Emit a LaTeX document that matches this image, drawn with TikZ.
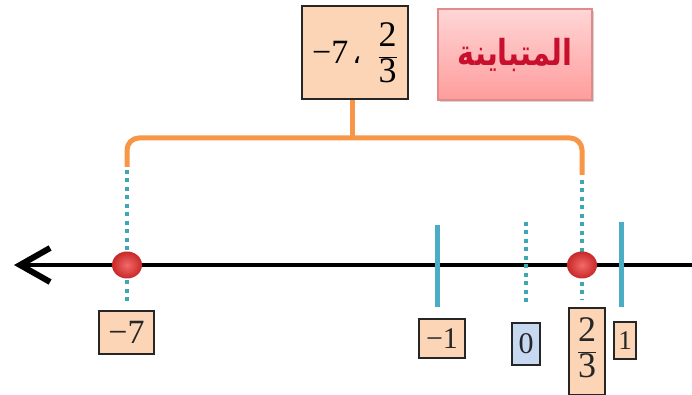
\documentclass[tikz,border=0pt]{standalone}
\usepackage{fontspec}
\usepackage{graphicx}
\setmainfont{Liberation Serif}
\newfontfamily\arabicfont[Script=Arabic]{DejaVu Sans}
\TeXXeTstate=1
\usetikzlibrary{arrows.meta,shadows,shapes.geometric}
\definecolor{peach}{HTML}{FBD5B5}
\definecolor{lblue}{HTML}{C6D9F1}
\definecolor{tickblue}{HTML}{4BACC6}
\definecolor{dotblue}{HTML}{3FA6B4}
\definecolor{orng}{HTML}{F79646}
\definecolor{arred}{HTML}{C8102E}
\definecolor{pinktop}{HTML}{FFD6D6}
\definecolor{pinkbot}{HTML}{FF9C9C}
\definecolor{pinkedge}{HTML}{E08A8A}
\definecolor{dotin}{HTML}{F26A6A}
\definecolor{dotout}{HTML}{C82828}
\tikzset{
  axisline/.style={line width=4.5pt, black},
  tickmark/.style={line width=5pt, tickblue},
  guide/.style={line width=4.5pt, dotblue, dash pattern=on 4pt off 4.5pt},
  pointdot/.style={ellipse, minimum width=30pt, minimum height=27pt, inner sep=0pt, shading=radial, inner color=dotin, outer color=dotout},
  brk/.style={line width=5pt, orng, rounded corners=12pt},
  lbl/.style={draw=black!85, line width=1.3pt, fill=peach, inner sep=0pt, text=black!85},
  topbox/.style={draw=black!85, line width=1.6pt, fill=peach, inner sep=0pt, minimum width=106pt, minimum height=93pt},
  arbox/.style={draw=pinkedge, line width=1.3pt, top color=pinktop, bottom color=pinkbot, inner sep=0pt, minimum width=154pt, minimum height=91pt, drop shadow={shadow xshift=2pt, shadow yshift=-2pt, opacity=0.35}},
}
\begin{document}
\begin{tikzpicture}[x=1pt,y=1pt]
\useasboundingbox (0,0) rectangle (692,395);
% axis
\coordinate (Lend) at (14,130);
\coordinate (Rend) at (692,130);
\draw[axisline, {Straight Barb[length=30pt,width=34pt,line width=6pt]}-] (Lend) -- (Rend);
% ticks
\coordinate (tma) at (437,170); \coordinate (tmb) at (437,88);
\coordinate (tpa) at (621,173); \coordinate (tpb) at (621,88);
\draw[tickmark] (tma) -- (tmb);
\draw[tickmark] (tpa) -- (tpb);
% dotted guides
\coordinate (g7a) at (127,225); \coordinate (g7b) at (127,90);
\coordinate (g0a) at (526,173); \coordinate (g0b) at (526,92);
\coordinate (g23a) at (582,215); \coordinate (g23b) at (582,95);
\draw[guide] (g7a) -- (g7b);
\draw[guide] (g0a) -- (g0b);
\draw[guide] (g23a) -- (g23b);
% dots
\node[pointdot] (dm7) at (127,130) {};
\node[pointdot] (d23) at (582,130) {};
% top boxes
\node[topbox] (tb) at (355,342.5) {\fontsize{34}{34}\selectfont −7\hspace{4pt}{\arabicfont\fontsize{28}{28}\selectfont ،}\hspace{16pt}$\displaystyle\frac{\mbox{\fontsize{36}{36}\selectfont 2}}{\mbox{\fontsize{36}{36}\selectfont 3}}$};
\node[arbox] (ab) at (515,340.5) {\textcolor{arred}{\scalebox{0.9}[1.12]{\arabicfont\bfseries\fontsize{32}{32}\selectfont\beginR المتباينة\endR}}};
% bracket
\coordinate (bl) at (127,228);
\coordinate (bm) at (352,257);
\coordinate (br) at (582,220);
\draw[brk] (bl) |- (bm) -| (br);
\draw[line width=5pt, orng] (bm) -- (tb.south -| bm);
% labels
\node[lbl, minimum width=55pt, minimum height=43pt, font=\fontsize{34}{34}\selectfont] (lm7) at (126.5,62.5) {−7};
\node[lbl, minimum width=46pt, minimum height=39pt, font=\fontsize{30}{30}\selectfont] (lm1) at (442,56.5) {−1};
\node[lbl, fill=lblue, minimum width=28pt, minimum height=42pt, font=\fontsize{30}{30}\selectfont] (l0) at (526,51) {0};
\node[lbl, minimum width=36pt, minimum height=87pt] (l23) at (587,43.5) {};
\node[inner sep=0pt, text=black!85, font=\fontsize{36}{36}\selectfont] (l23t) at ([yshift=4pt]l23.center) {$\displaystyle\frac{\mbox{2}}{\mbox{3}}$};
\node[lbl, minimum width=22pt, minimum height=37pt, font=\fontsize{27}{27}\selectfont] (l1) at (625,54.5) {1};
\end{tikzpicture}
\end{document}
